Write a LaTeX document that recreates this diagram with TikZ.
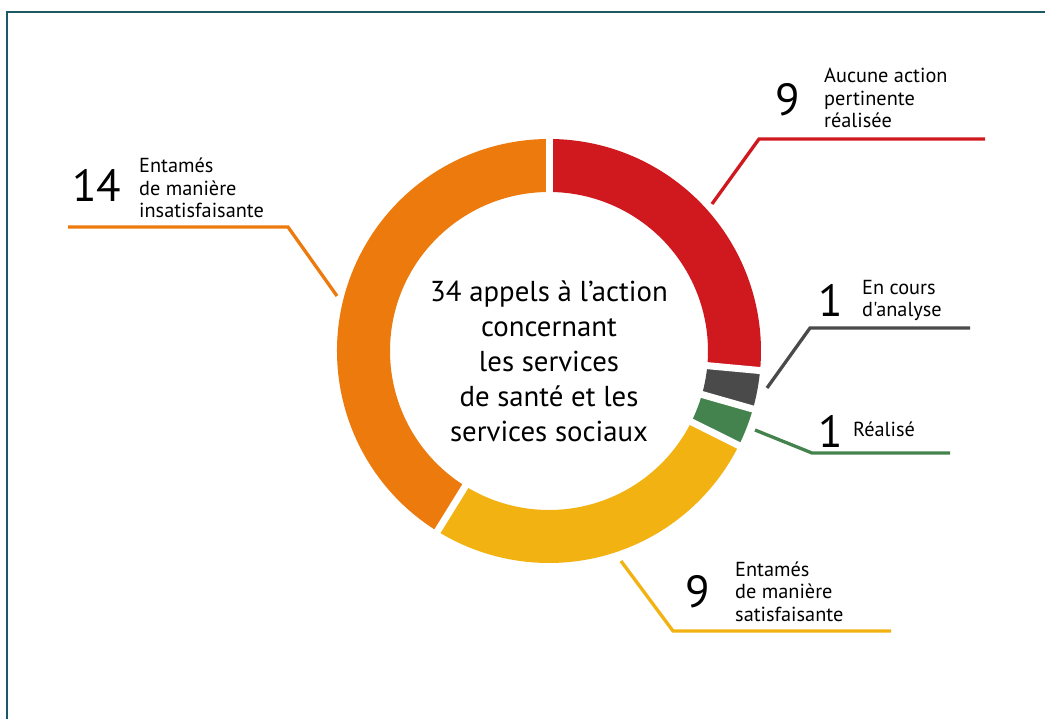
\documentclass[tikz,border=0pt]{standalone}
\usepackage{fontspec}
\setmainfont{PT Sans}
\newfontfamily\straightapos{PT Sans}[Ligatures=TeXOff]
\usetikzlibrary{calc}
\definecolor{cred}{HTML}{D0191F}
\definecolor{cgray}{HTML}{4A4A4A}
\definecolor{cgreen}{HTML}{44834E}
\definecolor{cyellow}{HTML}{F2B212}
\definecolor{corange}{HTML}{EC7A0C}
\definecolor{cframe}{HTML}{1B5A64}
\tikzset{
  gapline/.style={white, line width=7pt},
  leader/.style={line width=3.3pt, line join=miter},
  bignum/.style={anchor=base west, inner sep=0pt, font=\fontsize{45}{45}\selectfont},
  lbl/.style={anchor=base west, inner sep=0pt, align=left, font=\fontsize{20.3}{22.5}\selectfont},
  centertext/.style={align=center, inner sep=0pt, font=\fontsize{28.8}{35}\selectfont}
}
\begin{document}
\begin{tikzpicture}[x=1pt, y=-1pt]
\useasboundingbox (0,0) rectangle (1045,719);
\fill[white] (0,0) rectangle (1045,719);
% frame
\draw[cframe, line width=2.2pt] (1046,12) -- (7,12) -- (7,720);
% donut
\coordinate (c) at (549,351);
\begin{scope}[shift={(c)}]
\def\R{212}\def\r{159}
\foreach \a/\b/\col in {-90/5.294/cred, 5.294/15.882/cgray, 15.882/26.471/cgreen, 26.471/121.765/cyellow, 121.765/270/corange}{
  \fill[\col] (\a:\R) arc[start angle=\a, end angle=\b, radius=\R] -- (\b:\r) arc[start angle=\b, end angle=\a, radius=\r] -- cycle;
}
\foreach \b in {-90, 5.294, 15.882, 26.471, 121.765}{
  \draw[gapline] (\b:150) -- (\b:222);
}
\end{scope}
\node[centertext] (ctext) at (549,361) {34 appels à l’action\\concernant\\les services\\de santé et les\\services sociaux};
% leader coordinates
\coordinate (r0) at (712,204); \coordinate (r1) at (759,139); \coordinate (r2) at (985,139);
\coordinate (g0) at (767,388); \coordinate (g1) at (810,328); \coordinate (g2) at (970,328);
\coordinate (v0) at (755,430); \coordinate (v1) at (812,453); \coordinate (v2) at (950,453);
\coordinate (y0) at (621,561); \coordinate (y1) at (673,631); \coordinate (y2) at (891,631);
\coordinate (o0) at (337,296); \coordinate (o1) at (288,227); \coordinate (o2) at (68,227);
\draw[leader, cred] (r0) -- (r1) -- (r2);
\draw[leader, cgray] (g0) -- (g1) -- (g2);
\draw[leader, cgreen] (v0) -- (v1) -- (v2);
\draw[leader, cyellow] (y0) -- (y1) -- (y2);
\draw[leader, corange] (o0) -- (o1) -- (o2);
% labels (base = last line)
\node[bignum] (nr) at (775,116) {9};
\node[lbl] (tr) at (824,128) {Aucune action\\pertinente\\réalisée};
\node[bignum] (ng) at (818,317) {1};
\node[lbl] (tg) at (862,317) {En cours\\{\straightapos d'analyse}};
\node[bignum] (nv) at (818,447) {1};
\node[lbl] (tv) at (853,437) {Réalisé};
\node[bignum] (ny) at (685,607) {9};
\node[lbl] (ty) at (735,621) {Entamés\\de manière\\satisfaisante};
\node[bignum] (no) at (72,202) {14};
\node[lbl] (to) at (139,218) {Entamés\\de manière\\insatisfaisante};
\end{tikzpicture}
\end{document}
